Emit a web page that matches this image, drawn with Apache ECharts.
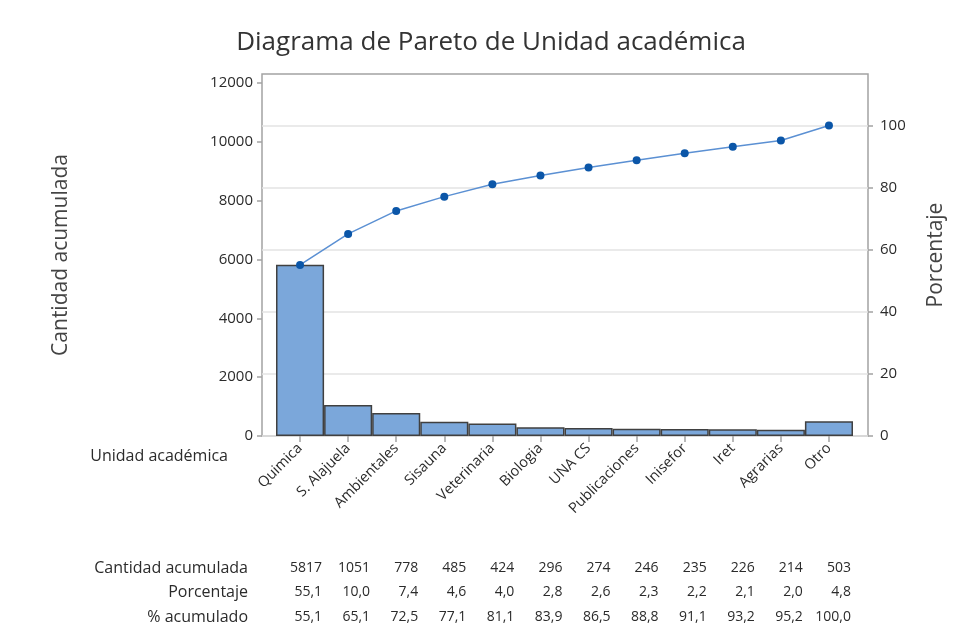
<!DOCTYPE html>
<html><head><meta charset="utf-8">
<script src="https://cdn.jsdelivr.net/npm/echarts@6/dist/echarts.min.js"></script>
<style>html,body{margin:0;padding:0;background:#fff}#c{width:961px;height:641px}</style>
</head><body><div id="c"></div>
<script>
const categories = ["Quimica","S. Alajuela","Ambientales","Sisauna","Veterinaria","Biologia","UNA CS","Publicaciones","Inisefor","Iret","Agrarias","Otro"];
const counts = [5817,1051,778,485,424,296,274,246,235,226,214,503];
const percent = ["55,1","10,0","7,4","4,6","4,0","2,8","2,6","2,3","2,2","2,1","2,0","4,8"];
const cumPercentLabels = ["55,1","65,1","72,5","77,1","81,1","83,9","86,5","88,8","91,1","93,2","95,2","100,0"];
const cumPercent = [55.1,65.1,72.5,77.1,81.1,83.9,86.5,88.8,91.1,93.2,95.2,100.0];
const leftTicks = [0,2000,4000,6000,8000,10000,12000];
const rightTicks = [0,20,40,60,80,100];
const rowNames = ["Cantidad acumulada","Porcentaje","% acumulado"];

const FONT = "'Open Sans', sans-serif";
const total = counts.reduce((a,b)=>a+b,0);
const leftMax = 12300;
const rightMax = leftMax / total * 100;
const axisGray = '#a3a3a3';
const TXT = '#2b2b2b';
const rowOffsets = [132,156,181];

function tableAxis(data, offset){
  return {
    gridIndex:1, type:'category', data:data.map(String), position:'bottom', offset:offset,
    axisLine:{show:false}, axisTick:{show:false},
    axisLabel:{margin:0, verticalAlign:'middle', interval:0, fontFamily:FONT, fontSize:14, color:TXT,
      formatter:v=>'{a|'+v+'}', rich:{a:{width:44, align:'right', fontFamily:FONT, fontSize:14, color:TXT}}}
  };
}
function rowTitle(name, offset){
  return {text:name, left:248, textAlign:'right', top:436+offset-8, padding:0,
    textStyle:{fontFamily:FONT, fontSize:16, fontWeight:'normal', color:TXT}};
}

const chart = echarts.init(document.getElementById('c'), null, {renderer:'canvas'});
chart.setOption({
  animation:false,
  backgroundColor:'#fff',
  title:[
    {text:'Diagrama de Pareto de Unidad académica', left:486, textAlign:'center', top:25,
      textStyle:{fontFamily:FONT, fontSize:26, fontWeight:'normal', color:'#333'}},
    rowTitle(rowNames[0], rowOffsets[0]),
    rowTitle(rowNames[1], rowOffsets[1]),
    rowTitle(rowNames[2], rowOffsets[2])
  ],
  grid:[
    {left:262, right:93, top:74, bottom:205, show:true, borderColor:axisGray, borderWidth:1.5},
    {left:276, right:108, top:74, bottom:205}
  ],
  xAxis:[
    {gridIndex:1, type:'category', data:categories,
      axisLine:{show:false},
      axisTick:{show:true, alignWithLabel:true, length:6, lineStyle:{color:axisGray, width:1.5}},
      axisLabel:{interval:0, rotate:45, margin:10, fontFamily:FONT, fontSize:14.5, color:TXT}},
    {gridIndex:0, type:'value', show:false},
    tableAxis(counts, rowOffsets[0]),
    tableAxis(percent, rowOffsets[1]),
    tableAxis(cumPercentLabels, rowOffsets[2]),
    {gridIndex:1, type:'category', data:categories, position:'bottom', offset:20,
      axisLine:{show:false}, axisTick:{show:false}, axisLabel:{show:false},
      name:'Unidad académica', nameLocation:'start', nameGap:48, nameMoveOverlap:false,
      nameTextStyle:{fontFamily:FONT, fontSize:16, color:TXT, verticalAlign:'middle'}}
  ],
  yAxis:[
    {gridIndex:0, type:'value', position:'left', min:0, max:leftMax,
      axisLine:{show:false},
      axisTick:{show:true, customValues:leftTicks, length:5, lineStyle:{color:axisGray, width:1.5}},
      axisLabel:{customValues:leftTicks, margin:9, fontFamily:FONT, fontSize:15, color:TXT, formatter:v=>String(v)},
      splitLine:{show:false},
      name:'Cantidad acumulada', nameLocation:'middle', nameRotate:90, nameGap:190,
      nameTextStyle:{fontFamily:FONT, fontSize:21, color:'#444'}},
    {gridIndex:0, type:'value', position:'right', min:0, max:rightMax, interval:20,
      axisLine:{show:false},
      axisTick:{show:true, customValues:rightTicks, length:5, lineStyle:{color:axisGray, width:1.5}},
      axisLabel:{customValues:rightTicks, margin:12, fontFamily:FONT, fontSize:15, color:TXT},
      splitLine:{show:true, lineStyle:{color:'#e3e3e3', width:1.5}},
      name:'Porcentaje', nameLocation:'middle', nameRotate:90, nameGap:58,
      nameTextStyle:{fontFamily:FONT, fontSize:21, color:'#444'}},
    {gridIndex:1, type:'value', min:0, max:leftMax, show:false},
    {gridIndex:1, type:'value', min:0, max:rightMax, show:false}
  ],
  series:[
    {type:'bar', xAxisIndex:0, yAxisIndex:2, data:counts, barWidth:'100%',
      itemStyle:{color:'#7ba7da', borderColor:'#404040', borderWidth:1.5}},
    {type:'line', xAxisIndex:0, yAxisIndex:3, data:cumPercent, symbol:'circle', symbolSize:8,
      itemStyle:{color:'#0b56a8'}, lineStyle:{color:'#5b90d3', width:1.5}, z:5}
  ]
});
</script></body></html>
